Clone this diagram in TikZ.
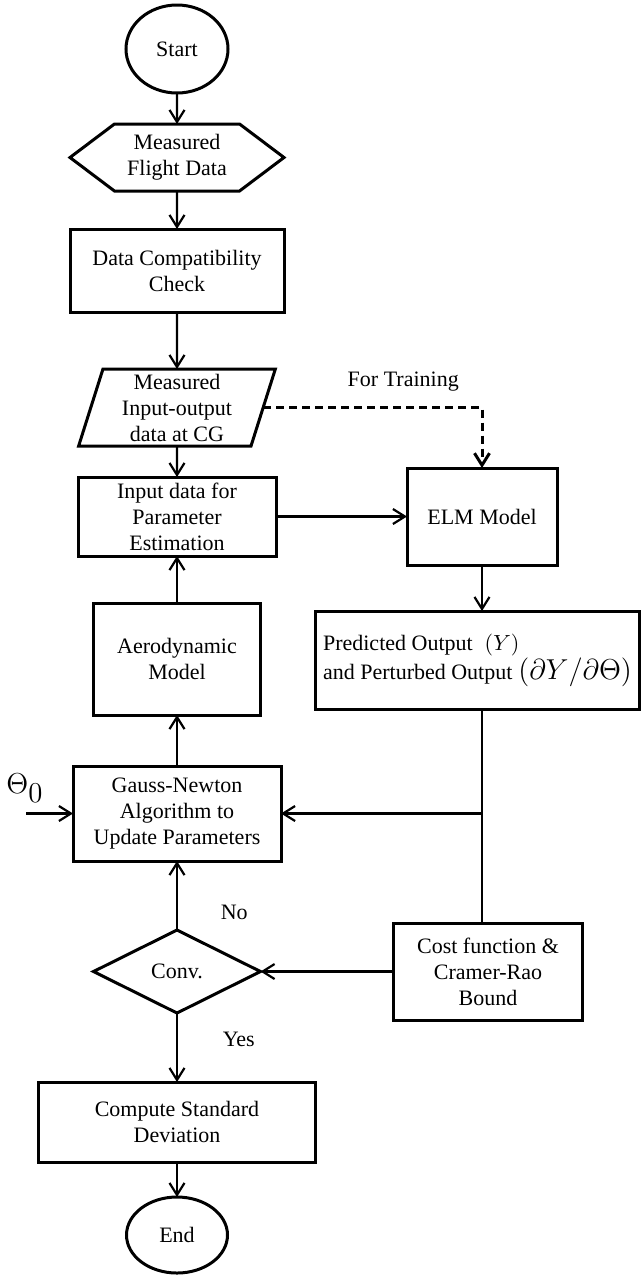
\documentclass[tikz,border=0pt]{standalone}
\usepackage{fontspec}
\setmainfont{Liberation Serif}
\usetikzlibrary{shapes.geometric,shapes.symbols,arrows.meta,positioning}

\begin{document}
\begin{tikzpicture}[x=0.5pt, y=-0.5pt, >={Straight Barb[length=6pt,width=7.5pt]},
    font=\fontsize{11}{13}\selectfont, thick/.style={line width=1.1pt},
    fbox/.style={rectangle, draw, line width=1.5pt, align=center, inner sep=1pt, outer sep=0pt},
    fterm/.style={ellipse, draw, line width=1.5pt, inner sep=0pt, outer sep=0pt},
    fhex/.style={signal, signal to=east and west, signal pointer angle=74, draw, line width=1.5pt, align=center, inner sep=1pt, outer sep=0pt},
    fio/.style={trapezium, trapezium left angle=75, trapezium right angle=105, trapezium stretches=true, draw, line width=1.5pt, align=center, inner sep=0pt, outer sep=0pt},
    fdec/.style={diamond, aspect=2, draw, line width=1.5pt, inner sep=0pt, outer sep=0pt}]

    \useasboundingbox (0,0) rectangle (641,1275);

    % main column
    \node[fterm, minimum width=51pt, minimum height=44pt] (start) at (177,49) {Start};
    \node[fhex, below=15.5pt of start, minimum width=107pt, minimum height=33.5pt] (flight) {Measured\\Flight Data};
    \node[fbox, below=19pt of flight, minimum width=107pt, minimum height=41.5pt] (check) {Data Compatibility\\Check};
    \node[fio, below=28.5pt of check, minimum width=99pt, minimum height=38.5pt] (meas) {Measured\\Input-output\\data at CG};
    \node[fbox, below=15.5pt of meas, minimum width=99pt, minimum height=39.5pt] (input) {Input data for\\Parameter\\Estimation};
    \node[fbox, below=23.5pt of input, minimum width=83.5pt, minimum height=56pt] (aero) {Aerodynamic\\Model};
    \node[fbox, below=25.5pt of aero, minimum width=104pt, minimum height=47.5pt] (gauss) {Gauss-Newton\\Algorithm to\\Update Parameters};
    \node[fdec, below=34.5pt of gauss, minimum width=83.5pt, minimum height=41.5pt] (conv) {Conv.};
    \node[fbox, below=34.5pt of conv, minimum width=138.5pt, minimum height=40pt] (comp) {Compute Standard\\Deviation};
    \node[fterm, below=17.5pt of comp, minimum width=50.5pt, minimum height=38pt] (end) {End};

    % right column
    \node[fbox, right=65.5pt of input, minimum width=75pt, minimum height=48.5pt] (elm) {ELM Model};
    \node[fbox, below=23pt of elm, xshift=-2.25pt, minimum width=162pt, minimum height=49pt, align=left] (pred)
        {Predicted Output\hspace{6pt}$(Y)$\\and Perturbed Output\hspace{3pt}{\fontsize{14}{13}\selectfont$(\partial Y/\partial\Theta)$}};
    \node[fbox, right=66.5pt of conv, minimum width=94.5pt, minimum height=48.5pt] (cost) {Cost function \&\\Cramer-Rao\\Bound};

    \node[font=\fontsize{15}{15}\selectfont] (theta) at (25,788) {$\Theta_{\textstyle 0}$};
    \coordinate[left=23.5pt of gauss.west] (th0);

    \draw[->, thick] (start) -- (flight);
    \draw[->, thick] (flight) -- (check);
    \draw[->, thick] (check) -- (meas);
    \draw[->, thick] (meas) -- (input);
    \draw[->, thick] (aero) -- (input);
    \draw[->, thick] (gauss) -- (aero);
    \draw[->, thick] (conv) -- node[pos=0.25, right=18pt] {No} (gauss);
    \draw[->, thick] (conv) -- node[pos=0.38, right=19pt] {Yes} (comp);
    \draw[->, thick] (comp) -- (end);
    \draw[->, thick] (input) -- (elm);
    \draw[->, line width=1.5pt, dash pattern=on 4pt off 2.5pt] (meas.right side) -| node[pos=0.32, above=4pt] {For Training} (elm.north);
    \draw[->, thick] (elm) -- (elm.south |- pred.north);
    \draw[thick] (elm.south |- pred.south) -- (elm.south |- cost.north);
    \draw[->, thick] (elm.south |- gauss.east) -- (gauss.east);
    \draw[->, thick] (cost) -- (conv);
    \draw[->, thick] (th0) -- (gauss.west);

\end{tikzpicture}
\end{document}
